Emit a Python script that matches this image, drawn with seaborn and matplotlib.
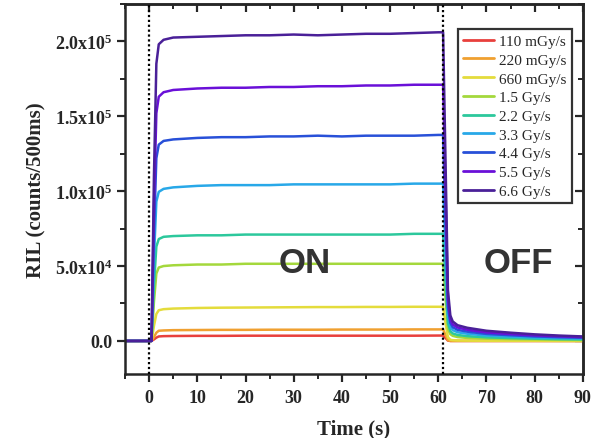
import numpy as np
import pandas as pd
import matplotlib
matplotlib.use('Agg')
import matplotlib.pyplot as plt
from matplotlib.ticker import MultipleLocator, FuncFormatter
import seaborn as sns

# sample times (s), shared by every dose-rate curve
time_s = [-5, 0, 0.5, 1, 1.5, 2, 3, 5, 10, 15, 20, 25, 30, 35, 40, 45, 50, 55, 60,
          61, 61.5, 62, 62.5, 63, 64, 66, 70, 75, 80, 85, 90]

dose_labels = ['110 mGy/s', '220 mGy/s', '660 mGy/s', '1.5 Gy/s', '2.2 Gy/s',
               '3.3 Gy/s', '4.4 Gy/s', '5.5 Gy/s', '6.6 Gy/s']

# RIL values, in thousands of counts per 500 ms
ril_110 = [0, 0, 0, 1.0, 2.2, 3.0, 3.2, 3.3, 3.4, 3.4, 3.5, 3.5, 3.5, 3.5, 3.5, 3.5, 3.5, 3.5, 3.6,
           3.6, 2.0, 0.2, 0, 0, 0, 0, 0, 0, 0, 0, 0]
ril_220 = [0, 0, 0, 2.5, 5.5, 6.8, 7.0, 7.2, 7.3, 7.4, 7.4, 7.5, 7.5, 7.5, 7.6, 7.6, 7.6, 7.7, 7.7,
           7.7, 4.0, 0.5, 0, 0, 0, 0, 0, 0, 0, 0, 0]
ril_660 = [0, 0, 0, 10, 18, 20.5, 21.2, 21.6, 22.0, 22.2, 22.3, 22.4, 22.5, 22.6, 22.6, 22.7, 22.7, 22.8, 22.8,
           22.8, 12, 2.5, 0.8, 0.5, 0.3, 0.2, 0.1, 0.1, 0.1, 0, 0]
ril_1p5 = [0, 0, 0, 26, 45, 49, 50, 50.5, 51, 51, 51.5, 51.5, 51.5, 51.5, 51.5, 51.5, 51.5, 51.5, 51.5,
           51.5, 29, 8, 4.5, 3.4, 2.6, 2.0, 1.5, 1.2, 1.0, 0.8, 0.6]
ril_2p2 = [0, 0, 0, 37, 63, 68, 69.5, 70, 70.5, 70.5, 71, 71, 71, 71, 71, 71, 71, 71.5, 71.5,
           71.5, 40, 12, 6.5, 5.0, 4.0, 3.2, 2.4, 1.9, 1.5, 1.2, 1.0]
ril_3p3 = [0, 0, 0, 55, 93, 99.5, 101.5, 102.5, 103.5, 104, 104, 104, 104.5, 104.5, 104.5, 104.5, 104.5, 105, 105,
           105, 60, 18, 9.5, 7.2, 5.8, 4.8, 3.6, 2.9, 2.3, 1.9, 1.6]
ril_4p4 = [0, 0, 0, 72, 122, 131, 133.5, 134.5, 135.5, 136, 136, 136.5, 136.5, 137, 136.5, 137, 137, 137, 137.5,
           137.5, 80, 23, 12, 9.2, 7.4, 6.2, 4.7, 3.8, 3.0, 2.5, 2.1]
ril_5p5 = [0, 0, 0, 90, 152, 163, 166, 167.5, 168.5, 169, 169, 169.5, 169.5, 170, 170, 170.5, 170.5, 171, 171,
           171, 100, 28, 14.5, 11, 9.0, 7.5, 5.7, 4.6, 3.7, 3.1, 2.6]
ril_6p6 = [0, 0, 0, 110, 185, 198, 201, 202.5, 203, 203.5, 204, 204, 204.5, 204, 204.5, 205, 205, 205.5, 206,
           206, 120, 34, 17, 13, 10.5, 8.8, 6.8, 5.5, 4.4, 3.6, 3.0]

all_series = [ril_110, ril_220, ril_660, ril_1p5, ril_2p2, ril_3p3, ril_4p4, ril_5p5, ril_6p6]

line_colors = ['#e8403c', '#f0a030', '#e4dc3c', '#a4d83c', '#2cc89c',
               '#28a8e8', '#2850d8', '#6a10d8', '#4a2098']

frames = []
for label, vals in zip(dose_labels, all_series):
    frames.append(pd.DataFrame({'time': time_s,
                                'ril': np.array(vals) * 1000,
                                'dose': label}))
df = pd.concat(frames, ignore_index=True)

sns.set_style('ticks')
plt.rcParams['font.family'] = ['Liberation Serif', 'DejaVu Serif']
plt.rcParams['mathtext.fontset'] = 'custom'
plt.rcParams['mathtext.rm'] = 'Liberation Serif:bold'
plt.rcParams['mathtext.default'] = 'regular'

fig = plt.figure(figsize=(6.04, 4.39), dpi=100)
ax = fig.add_axes([0.207, 0.146, 0.758, 0.843])

sns.lineplot(data=df, x='time', y='ril', hue='dose', hue_order=dose_labels,
             palette=line_colors, linewidth=1.8, ax=ax)

for x_on in [0, 61]:
    ax.axvline(x_on, color='black', linestyle=(0, (1, 1.2)), linewidth=1.6, zorder=5)

ax.set_xlim(-5, 90)
ax.set_ylim(-22000, 225000)
ax.xaxis.set_major_locator(MultipleLocator(10))
ax.xaxis.set_minor_locator(MultipleLocator(5))
ax.yaxis.set_major_locator(MultipleLocator(50000))
ax.yaxis.set_minor_locator(MultipleLocator(25000))


def sci_fmt(v, pos):
    if v == 0:
        return '0.0'
    exp = int(np.floor(np.log10(abs(v))))
    return f'{v / 10 ** exp:.1f}x10$^{{{exp}}}$'


ax.yaxis.set_major_formatter(FuncFormatter(sci_fmt))

for lab in ax.get_xticklabels() + ax.get_yticklabels():
    lab.set_fontweight('bold')
ax.tick_params(which='major', direction='out', length=6, width=1.6, labelsize=13, pad=3)
ax.tick_params(which='minor', direction='out', length=3.5, width=1.4)
ax.tick_params(axis='x', pad=5)

for side in ['top', 'right', 'left', 'bottom']:
    ax.spines[side].set_visible(True)
    ax.spines[side].set_linewidth(1.8)

# mirrored ticks pointing inward on top and right
top_ax = ax.secondary_xaxis('top')
top_ax.xaxis.set_major_locator(MultipleLocator(10))
top_ax.xaxis.set_minor_locator(MultipleLocator(5))
top_ax.tick_params(which='major', direction='in', length=6, width=1.6, labeltop=False)
top_ax.tick_params(which='minor', direction='in', length=3.5, width=1.4)
top_ax.spines['top'].set_linewidth(1.8)
right_ax = ax.secondary_yaxis('right')
right_ax.yaxis.set_major_locator(MultipleLocator(50000))
right_ax.yaxis.set_minor_locator(MultipleLocator(25000))
right_ax.tick_params(which='major', direction='in', length=6, width=1.6, labelright=False)
right_ax.tick_params(which='minor', direction='in', length=3.5, width=1.4)
right_ax.spines['right'].set_linewidth(1.8)

ax.set_xlabel('Time (s)', fontsize=15, fontweight='bold', labelpad=9)
ax.set_ylabel('RIL (counts/500ms)', fontsize=15, fontweight='bold', labelpad=6)

ax.text(32.2, 52500, 'ON', fontsize=25, fontweight='bold', color='#333333',
        family='Liberation Sans', ha='center', va='center')
ax.text(76.7, 52500, 'OFF', fontsize=25, fontweight='bold', color='#333333',
        family='Liberation Sans', ha='center', va='center')

leg = ax.legend(loc='upper right', bbox_to_anchor=(0.976, 0.932), borderaxespad=0,
                fontsize=11, frameon=True, fancybox=False, labelspacing=0.33,
                handlelength=2.0, handletextpad=0.35, borderpad=0.35, title=None)
leg.get_frame().set_edgecolor('black')
leg.get_frame().set_linewidth(1.6)
for h in leg.get_lines():
    h.set_linewidth(2.0)

fig.savefig('out.png', dpi=100)
